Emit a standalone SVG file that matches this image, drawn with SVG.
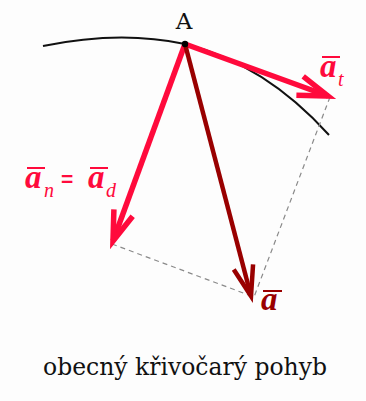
<svg xmlns="http://www.w3.org/2000/svg" width="366" height="401" viewBox="0 0 366 401">
<style>
.red{stroke:#ff0a3c;fill:none;stroke-width:5.5}
.dark{stroke:#990000;fill:none;stroke-width:4.5}
.dash{stroke:#8a8a8a;fill:none;stroke-width:1.2;stroke-dasharray:5 4}
.lbl{font-family:"Liberation Serif",serif;font-style:italic;font-weight:bold;font-size:33px}
.sub{font-family:"Liberation Serif",serif;font-style:italic;font-size:20px}
.ov{stroke-width:2}
</style>
<defs>
<marker id="mr" markerUnits="userSpaceOnUse" orient="auto" markerWidth="40" markerHeight="30" refX="0" refY="0" viewBox="-34 -15 40 30" overflow="visible">
<path d="M-30,-10 L0,0 L-30,10" fill="none" stroke="#ff0a3c" stroke-width="5.5" stroke-linejoin="miter"/>
</marker>
<marker id="md" markerUnits="userSpaceOnUse" orient="auto" markerWidth="40" markerHeight="30" refX="0" refY="0" viewBox="-34 -15 40 30" overflow="visible">
<path d="M-30,-10 L0,0 L-30,10" fill="none" stroke="#990000" stroke-width="4.5" stroke-linejoin="miter"/>
</marker>
</defs>
<rect width="366" height="401" fill="#fdfdfd"/>
<g id="trajectory">
<path d="M43,46 Q120,30 185,44 Q265,64 329,135" fill="none" stroke="#111" stroke-width="2"/>
</g>
<g id="connectors">
<path class="dash" d="M112,244 L254,297"/>
<path class="dash" d="M330,97 L254,297"/>
<path class="red" d="M185,44 L328,96" marker-end="url(#mr)"/>
<path class="red" d="M185,44 L113,241" marker-end="url(#mr)"/>
<path class="dark" d="M185,44 L251,296" marker-end="url(#md)"/>
</g>
<g id="pointA">
<circle cx="185" cy="44" r="3.2" fill="#000"/>
<text x="184" y="29" text-anchor="middle" font-family="DejaVu Serif,serif" font-size="23" fill="#111">A</text>
</g>
<g id="label-at" fill="#ff0a3c">
<line class="ov" x1="322" y1="57" x2="340" y2="57" stroke="#ff0a3c"/>
<text class="lbl" x="320" y="77">a</text>
<text class="sub" x="338" y="86">t</text>
</g>
<g id="label-an" fill="#ff0a3c">
<line class="ov" x1="27" y1="168" x2="45" y2="168" stroke="#ff0a3c"/>
<text class="lbl" x="25" y="188">a</text>
<text class="sub" x="44" y="197">n</text>
<text x="61" y="186" font-family="Liberation Sans,sans-serif" font-weight="bold" font-size="21">=</text>
<line class="ov" x1="90" y1="168" x2="108" y2="168" stroke="#ff0a3c"/>
<text class="lbl" x="88" y="188">a</text>
<text class="sub" x="106" y="197">d</text>
</g>
<g id="label-a" fill="#990000">
<line class="ov" x1="263" y1="291" x2="282" y2="291" stroke="#990000"/>
<text class="lbl" x="261" y="310">a</text>
</g>
<g id="caption">
<text x="43" y="375" font-family="DejaVu Serif,serif" font-size="24" fill="#111" textLength="284" lengthAdjust="spacingAndGlyphs">obecný křivočarý pohyb</text>
</g>
</svg>
